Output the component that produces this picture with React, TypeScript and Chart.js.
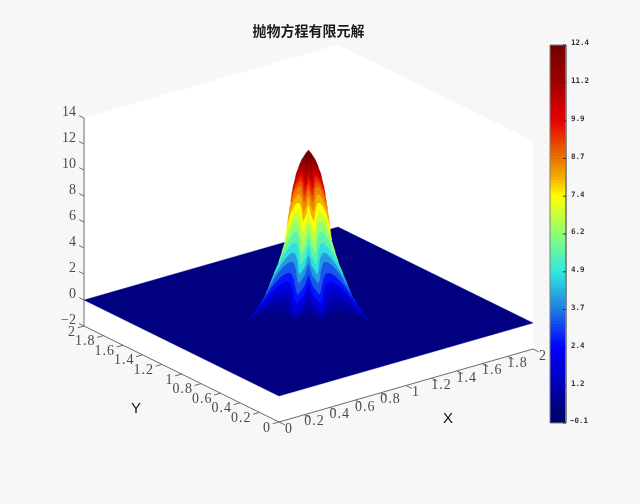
import React, { useEffect, useRef } from "react";
import { Chart, registerables } from "chart.js";

Chart.register(...registerables);

// ---- data ----
const title = "抛物方程有限元解";
const xTicks = [0, 0.2, 0.4, 0.6, 0.8, 1, 1.2, 1.4, 1.6, 1.8, 2];
const yTicks = [0, 0.2, 0.4, 0.6, 0.8, 1, 1.2, 1.4, 1.6, 1.8, 2];
const zTicks = [-2, 0, 2, 4, 6, 8, 10, 12, 14];
const colorbarValues = [12.4, 11.15, 9.9, 8.65, 7.4, 6.15, 4.9, 3.65, 2.4, 1.15, -0.1];
const colorbarLabels = ["12.4", "11.2", "9.9", "8.7", "7.4", "6.2", "4.9", "3.7", "2.4", "1.2", "\u22120.1"];
const zMin = -2;
const zMax = 14;
const cMin = -0.1;
const cMax = 12.4;
const floorZ = 0;
const floorColourValue = 0.4;
// colour map
const stopValue = [-0.1, 0.4, 1.2, 2.4, 3.7, 4.9, 6.2, 7.4, 8.0, 8.7, 9.9, 11.2, 12.4];
const stopRed = [0, 0, 0, 0, 32, 48, 144, 255, 245, 232, 232, 160, 112];
const stopGreen = [0, 0, 0, 0, 128, 232, 255, 255, 176, 112, 0, 0, 0];
const stopBlue = [108, 128, 184, 255, 224, 224, 112, 0, 0, 0, 0, 0, 0];
// silhouette of the peak: height and half-width in view units
const peakZ = [12.42, 12.2, 11.65, 10.65, 9.35, 8.04, 6.8, 5.5, 4.96, 3.73, 2.42, 1.11, 0.12, -0.8];
const peakHalfWidth = [0, 2.5, 7, 12, 16, 18.5, 21, 23, 25, 30, 37, 44, 52, 62];
// colour bands painted from the summit down: colour value and height of the band's crest
const bandValue = [11.6, 10.9, 10.2, 9.5, 9.0, 8.5, 8.0, 7.4, 6.8, 6.2, 5.5, 4.8, 4.0, 3.3, 2.6, 1.9, 1.4, 1.0, 0.7, 0.4];
const bandCrest = [11.8, 11.35, 10.8, 10.4, 10.0, 9.6, 9.0, 8.35, 7.65, 6.9, 6.1, 5.25, 4.5, 3.8, 2.95, 2.27, 1.65, 1.04, 0.5, -0.1];
// scalloped edge of every band: across position and drop
const scallopU = [-1, -0.9, -0.78, -0.65, -0.58, -0.5, -0.4, -0.3, -0.24, -0.18, -0.1, -0.04, 0, 0.04, 0.1, 0.18, 0.24, 0.3, 0.4, 0.5, 0.58, 0.65, 0.78, 0.9, 1];
const scallopDrop = [1.3, 0.55, 0.2, 0.02, 0, 0.03, 0.3, 0.85, 1, 0.8, 0.6, 0.25, 0.1, 0.25, 0.6, 0.8, 1, 0.85, 0.3, 0.03, 0, 0.02, 0.2, 0.55, 1.3];
// front rim of the foot of the peak
const rimU = [0.8, 0.55, 0.3, 0, -0.3, -0.55, -0.8];
const rimDrop = [4, 7, 9, 10, 9, 7, 4];

// ---- view-plane layout ----
const W = 640;
const H = 504;
const ox = 279, oy = 396, xdx = 127, xdy = -36.5, ydx = -97.5, ydy = -48, zdy = -13;
const px = (X: number, Y: number) => ox + xdx * X + ydx * Y;
const py = (X: number, Y: number, Z: number) => oy + xdy * X + ydy * Y + zdy * Z;
const P = (X: number, Y: number, Z: number) => ({ x: px(X, Y), y: py(X, Y, Z) });
const peakX = 308.5;
const peakCentreY = py(1, 1, 0);
const maxDepth = 22;
const depthShare = 1.05;
const barL = 550, barR = 566, barT = 45, barB = 423;
const barY = (v: number) => barB - ((v - cMin) / (cMax - cMin)) * (barB - barT);

function colourOf(v: number) {
  let i = 1;
  while (i < stopValue.length - 1 && v > stopValue[i]) i++;
  const f = Math.max(0, Math.min(1, (v - stopValue[i - 1]) / (stopValue[i] - stopValue[i - 1])));
  const m = (a: number[]) => Math.round(a[i - 1] + f * (a[i] - a[i - 1]));
  return `rgb(${m(stopRed)},${m(stopGreen)},${m(stopBlue)})`;
}

const peakYs = peakZ.map((z) => peakCentreY + zdy * z);
function halfWidthAt(y: number) {
  if (y <= peakYs[0]) return 0;
  for (let i = 1; i < peakYs.length; i++) {
    if (y <= peakYs[i]) {
      const f = (y - peakYs[i - 1]) / (peakYs[i] - peakYs[i - 1]);
      return peakHalfWidth[i - 1] + f * (peakHalfWidth[i] - peakHalfWidth[i - 1]);
    }
  }
  return peakHalfWidth[peakHalfWidth.length - 1];
}

const lastY = peakYs[peakYs.length - 1];
const lastW = peakHalfWidth[peakHalfWidth.length - 1];
const rim = rimU.map((u, i) => ({ x: peakX + u * lastW, y: lastY + rimDrop[i] }));
const crestY = (c: number) => peakCentreY + zdy * c;
const sideDrop = 1.3;
const depthAt = (c: number) =>
  Math.min(halfWidthAt(crestY(c)) * depthShare, maxDepth, (lastY - crestY(c)) / sideDrop);
const bandEnd = (c: number) => crestY(c) + sideDrop * depthAt(c);

// each band stops just under the end of the next one, so that edges do not pile up
function bandPolygon(crest: number | null, nextCrest: number | null) {
  const pts: { x: number; y: number }[] = [];
  let endY = peakYs[0];
  if (crest !== null) {
    const y0 = crestY(crest);
    const depth = depthAt(crest);
    scallopU.forEach((u, i) => {
      const y = y0 + scallopDrop[i] * depth;
      pts.push({ x: peakX + u * halfWidthAt(y), y });
    });
    endY = y0 + sideDrop * depth;
  } else {
    pts.push({ x: peakX, y: peakYs[0] });
  }
  const stopY = nextCrest === null ? Infinity : Math.min(lastY, Math.max(bandEnd(nextCrest) + 1, endY + 1));
  peakYs.forEach((y, i) => {
    if (y > endY && y < stopY) pts.push({ x: peakX + peakHalfWidth[i], y });
  });
  if (nextCrest === null) {
    pts.push({ x: peakX + lastW, y: lastY }, ...rim, { x: peakX - lastW, y: lastY });
  } else {
    const w = halfWidthAt(stopY);
    pts.push({ x: peakX + w, y: stopY }, { x: peakX - w, y: stopY });
  }
  for (let i = peakYs.length - 1; i >= 0; i--) {
    if (peakYs[i] > endY && peakYs[i] < stopY) pts.push({ x: peakX - peakHalfWidth[i], y: peakYs[i] });
  }
  pts.push(pts[0]);
  return pts;
}

function makeDatasets() {
  const ds: any[] = [];
  const shape = (data: any[], color: string, bw = 0.4) =>
    ds.push({ data, showLine: true, fill: "shape", backgroundColor: color, borderColor: color, borderWidth: bw, pointRadius: 0, tension: 0, clip: false });
  const line = (data: any[], color = "#6a6a6a", width = 1) =>
    ds.push({ data, showLine: true, fill: false, borderColor: color, borderWidth: width, pointRadius: 0, tension: 0, clip: false });

  // white box walls
  shape(
    [P(0, 2, zMax), P(2, 2, zMax), P(2, 0, zMax), P(2, 0, zMin), P(0, 0, zMin), P(0, 2, zMin), P(0, 2, zMax)],
    "#ffffff"
  );
  // floor of the solution
  shape([P(0, 0, floorZ), P(2, 0, floorZ), P(2, 2, floorZ), P(0, 2, floorZ), P(0, 0, floorZ)], colourOf(floorColourValue));
  // peak
  shape(bandPolygon(null, bandCrest[0]), colourOf(cMax));
  bandValue.forEach((v, i) =>
    shape(bandPolygon(bandCrest[i], i + 1 < bandCrest.length ? bandCrest[i + 1] : null), colourOf(v))
  );
  // axes
  line([P(0, 0, zMin), P(2, 0, zMin)]);
  line([P(0, 0, zMin), P(0, 2, zMin)]);
  line([P(0, 2, zMin), P(0, 2, zMax)]);
  xTicks.forEach((t) => line([P(t, 0, zMin), P(t, -0.06, zMin)]));
  yTicks.forEach((t) => line([P(0, t, zMin), P(-0.05, t, zMin)]));
  zTicks.forEach((t) => line([P(0, 2, t), P(0, 2.05, t)]));
  // colour bar
  const steps = 126;
  for (let i = 0; i < steps; i++) {
    const a = Math.round(barB - ((barB - barT) * i) / steps);
    const b = Math.round(barB - ((barB - barT) * (i + 1)) / steps);
    const color = colourOf(cMin + ((cMax - cMin) * (i + 0.5)) / steps);
    shape([{ x: barL, y: a }, { x: barR, y: a }, { x: barR, y: b }, { x: barL, y: b }, { x: barL, y: a }], color, 0);
  }
  line(
    [{ x: barL, y: barT }, { x: barR, y: barT }, { x: barR, y: barB }, { x: barL, y: barB }, { x: barL, y: barT }],
    "#7c7c7c",
    1
  );
  colorbarValues.forEach((v) => line([{ x: barR - 3, y: barY(v) }, { x: barR, y: barY(v) }], "#333333", 1));
  ds.forEach((d, i) => (d.order = ds.length - i));
  return ds;
}

const textPlugin = {
  id: "boxText",
  afterDatasetsDraw(chart: any) {
    const { ctx, scales } = chart;
    const sx = (v: number) => scales.x.getPixelForValue(v);
    const sy = (v: number) => scales.y.getPixelForValue(v);
    const put = (s: string, x: number, y: number, font: string, color: string, align: CanvasTextAlign, spacing = "0px") => {
      ctx.font = font;
      ctx.fillStyle = color;
      ctx.textAlign = align;
      ctx.textBaseline = "middle";
      (ctx as any).letterSpacing = spacing;
      ctx.fillText(s, sx(x), sy(y));
    };
    ctx.save();
    const tickFont = '14px "Liberation Serif"';
    const ink = "#4a4a4a";
    xTicks.forEach((t) => put(String(t), px(t, 0) + 10, py(t, 0, zMin) + 7, tickFont, ink, "center", "1px"));
    yTicks.forEach((t) => put(String(t), px(0, t) - 8, py(0, t, zMin) + 6, tickFont, ink, "right", "1px"));
    zTicks.forEach((t) =>
      put(String(t).replace("-", "\u2212"), px(0, 2) - 8, py(0, 2, t) - 6, tickFont, ink, "right", "0px")
    );
    put("X", 448, 419, '15px "Liberation Sans"', "#111111", "center");
    put("Y", 136, 409, '15px "Liberation Sans"', "#111111", "center");
    put(title, 308.5, 31, 'bold 14px "Noto Sans CJK SC"', "#1a1a1a", "center");
    colorbarValues.forEach((v, i) =>
      put(colorbarLabels[i], i === colorbarLabels.length - 1 ? 570 : 571, barY(v) - 1.5, 'bold 7.5px "DejaVu Sans Mono"', "#333333", "left")
    );
    ctx.restore();
  },
};

export default function App() {
  const ref = useRef<HTMLCanvasElement>(null);
  useEffect(() => {
    const chart = new Chart(ref.current as HTMLCanvasElement, {
      type: "scatter",
      data: { datasets: makeDatasets() },
      options: {
        animation: false,
        responsive: false,
        devicePixelRatio: 1,
        layout: { padding: 0 },
        events: [],
        plugins: { legend: { display: false }, tooltip: { enabled: false }, title: { display: false } },
        scales: {
          x: { type: "linear", min: 0, max: W, display: false },
          y: { type: "linear", min: 0, max: H, reverse: true, display: false },
        },
      },
      plugins: [textPlugin],
    } as any);
    return () => chart.destroy();
  }, []);
  return (
    <div style={{ position: "fixed", left: 0, top: 0, width: W, height: H, background: "#f7f7f7" }}>
      <canvas ref={ref} width={W} height={H} style={{ display: "block", width: W, height: H }} />
    </div>
  );
}
